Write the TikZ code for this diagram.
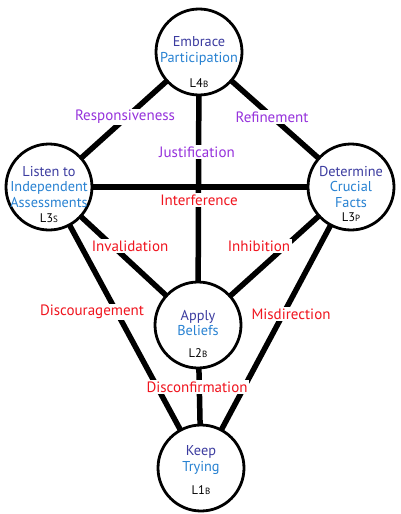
\documentclass[tikz,border=0pt]{standalone}
\usepackage{fontspec}
\setmainfont{PT Sans}
\usetikzlibrary{backgrounds}
\definecolor{dblue}{RGB}{60,60,160}
\definecolor{lblue}{RGB}{40,130,210}
\definecolor{lpurple}{RGB}{150,50,220}
\definecolor{lred}{RGB}{240,20,30}
\tikzset{
  circ/.style={circle,draw=black,line width=2.8pt,fill=white,minimum size=86pt,inner sep=0pt},
  conn/.style={line width=5.5pt},
  ntext/.style={align=center,font=\fontsize{14.3}{15.5}\selectfont,inner sep=0pt},
  lvl/.style={font=\fontsize{12.5}{13}\selectfont,inner sep=0pt},
  elab/.style={fill=white,inner sep=1.5pt,font=\fontsize{15}{16}\selectfont},
  purp/.style={elab,text=lpurple},
  redl/.style={elab,text=lred}
}
\newcommand{\lv}[2]{L#1{\fontsize{9}{10}\selectfont #2}}
\begin{document}
\begin{tikzpicture}[x=1pt,y=-1pt]
\useasboundingbox (0,0) rectangle (400,514);
\node[circ] (top) at (199,52) {};
\node[circ] (left) at (49,187) {};
\node[circ] (right) at (351,187) {};
\node[circ] (mid) at (198,325) {};
\node[circ] (bot) at (201,468) {};
\begin{pgfonlayer}{background}
\draw[conn] (top.center) -- (left.center);
\draw[conn] (top.center) -- (right.center);
\draw[conn] (top.center) -- (mid.center);
\draw[conn] (left.center) -- (right.center);
\draw[conn] (left.center) -- (mid.center);
\draw[conn] (right.center) -- (mid.center);
\draw[conn] (left.center) -- (bot.center);
\draw[conn] (right.center) -- (bot.center);
\draw[conn] (mid.center) -- (bot.center);
\end{pgfonlayer}
% circle texts
\node[ntext] (ttop) at (199,51) {\textcolor{dblue}{Embrace}\\\textcolor{lblue}{Participation}};
\node[lvl] (ltop) at (199,83) {\lv{4}{B}};
\node[ntext] (tleft) at (49,187) {\textcolor{dblue}{Listen to}\\\textcolor{lblue}{Independent}\\\textcolor{lblue}{Assessments}};
\node[lvl] (lleft) at (49,218) {\lv{3}{S}};
\node[ntext] (tright) at (351,187) {\textcolor{dblue}{Determine}\\\textcolor{lblue}{Crucial}\\\textcolor{lblue}{Facts}};
\node[lvl] (lright) at (351,217) {\lv{3}{P}};
\node[ntext] (tmid) at (198,323) {\textcolor{dblue}{Apply}\\\textcolor{lblue}{Beliefs}};
\node[lvl] (lmid) at (198,353) {\lv{2}{B}};
\node[ntext] (tbot) at (201,460) {\textcolor{dblue}{Keep}\\\textcolor{lblue}{Trying}};
\node[lvl] (lbot) at (201,490) {\lv{1}{B}};
% edge labels
\node[purp] (resp) at (125,117) {Responsiveness};
\node[purp] (refi) at (272,117) {Refinement};
\node[purp] (just) at (197,152) {Justification};
\node[redl] (intf) at (199,200) {Interference};
\node[redl] (inva) at (130,246) {Invalidation};
\node[redl] (inhi) at (259,246) {Inhibition};
\node[redl] (disc) at (92,312) {Discouragement};
\node[redl] (misd) at (291,314) {Misdirection};
\node[redl] (dcnf) at (197,387) {Disconfirmation};
\end{tikzpicture}
\end{document}
